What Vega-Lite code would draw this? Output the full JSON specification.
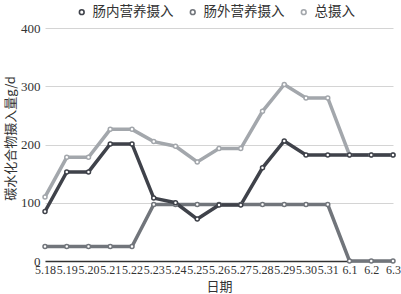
{
  "$schema": "https://vega.github.io/schema/vega-lite/v6.json",
  "width": 348,
  "height": 233,
  "autosize": "none",
  "padding": {"left": 45, "top": 28, "right": 8, "bottom": 33},
  "background": "white",
  "config": {
    "font": "Liberation Serif",
    "view": {"stroke": null}
  },
  "data": {
    "values": [
      {"date": "5.18", "s": "总摄入", "v": 110},
      {"date": "5.19", "s": "总摄入", "v": 178},
      {"date": "5.20", "s": "总摄入", "v": 178},
      {"date": "5.21", "s": "总摄入", "v": 226},
      {"date": "5.22", "s": "总摄入", "v": 226},
      {"date": "5.23", "s": "总摄入", "v": 205},
      {"date": "5.24", "s": "总摄入", "v": 197},
      {"date": "5.25", "s": "总摄入", "v": 170},
      {"date": "5.26", "s": "总摄入", "v": 193},
      {"date": "5.27", "s": "总摄入", "v": 193},
      {"date": "5.28", "s": "总摄入", "v": 257},
      {"date": "5.29", "s": "总摄入", "v": 303},
      {"date": "5.30", "s": "总摄入", "v": 280},
      {"date": "5.31", "s": "总摄入", "v": 280},
      {"date": "6.1", "s": "总摄入", "v": 182},
      {"date": "6.2", "s": "总摄入", "v": 182},
      {"date": "6.3", "s": "总摄入", "v": 182},
      {"date": "5.18", "s": "肠外营养摄入", "v": 25},
      {"date": "5.19", "s": "肠外营养摄入", "v": 25},
      {"date": "5.20", "s": "肠外营养摄入", "v": 25},
      {"date": "5.21", "s": "肠外营养摄入", "v": 25},
      {"date": "5.22", "s": "肠外营养摄入", "v": 25},
      {"date": "5.23", "s": "肠外营养摄入", "v": 97},
      {"date": "5.24", "s": "肠外营养摄入", "v": 97},
      {"date": "5.25", "s": "肠外营养摄入", "v": 97},
      {"date": "5.26", "s": "肠外营养摄入", "v": 97},
      {"date": "5.27", "s": "肠外营养摄入", "v": 97},
      {"date": "5.28", "s": "肠外营养摄入", "v": 97},
      {"date": "5.29", "s": "肠外营养摄入", "v": 97},
      {"date": "5.30", "s": "肠外营养摄入", "v": 97},
      {"date": "5.31", "s": "肠外营养摄入", "v": 97},
      {"date": "6.1", "s": "肠外营养摄入", "v": 0},
      {"date": "6.2", "s": "肠外营养摄入", "v": 0},
      {"date": "6.3", "s": "肠外营养摄入", "v": 0},
      {"date": "5.18", "s": "肠内营养摄入", "v": 85},
      {"date": "5.19", "s": "肠内营养摄入", "v": 153},
      {"date": "5.20", "s": "肠内营养摄入", "v": 153},
      {"date": "5.21", "s": "肠内营养摄入", "v": 201},
      {"date": "5.22", "s": "肠内营养摄入", "v": 201},
      {"date": "5.23", "s": "肠内营养摄入", "v": 108},
      {"date": "5.24", "s": "肠内营养摄入", "v": 100},
      {"date": "5.25", "s": "肠内营养摄入", "v": 72},
      {"date": "5.26", "s": "肠内营养摄入", "v": 96},
      {"date": "5.27", "s": "肠内营养摄入", "v": 96},
      {"date": "5.28", "s": "肠内营养摄入", "v": 160},
      {"date": "5.29", "s": "肠内营养摄入", "v": 206},
      {"date": "5.30", "s": "肠内营养摄入", "v": 182},
      {"date": "5.31", "s": "肠内营养摄入", "v": 182},
      {"date": "6.1", "s": "肠内营养摄入", "v": 182},
      {"date": "6.2", "s": "肠内营养摄入", "v": 182},
      {"date": "6.3", "s": "肠内营养摄入", "v": 182}
    ]
  },
  "encoding": {
    "x": {
      "field": "date",
      "type": "ordinal",
      "sort": ["5.18","5.19","5.20","5.21","5.22","5.23","5.24","5.25","5.26","5.27","5.28","5.29","5.30","5.31","6.1","6.2","6.3"],
      "scale": {"type": "point", "padding": 0},
      "axis": {
        "title": "日期",
        "titleFont": "Noto Sans CJK SC",
        "titleFontSize": 13,
        "titleFontWeight": "normal",
        "titleColor": "#333333",
        "titlePadding": 5,
        "labelFont": "Liberation Serif",
        "labelAngle": 0,
        "labelFontSize": 12,
        "labelColor": "#333333",
        "labelOverlap": false,
        "labelBound": false,
        "labelPadding": 3,
        "ticks": false,
        "domainColor": "#333333",
        "domainWidth": 1.5,
        "grid": false
      }
    },
    "y": {
      "field": "v",
      "type": "quantitative",
      "scale": {"domain": [0, 400]},
      "axis": {
        "title": "碳水化合物摄入量g/d",
        "titleFont": "Noto Sans CJK SC",
        "titleFontSize": 13,
        "titleFontWeight": "normal",
        "titleColor": "#333333",
        "titleX": -35,
        "titleY": 110,
        "titleBaseline": "middle",
        "values": [0, 100, 200, 300, 400],
        "labelFont": "Liberation Serif",
        "labelFontSize": 13,
        "labelColor": "#333333",
        "labelPadding": 5,
        "ticks": false,
        "domain": false,
        "gridColor": "#d4d4d4",
        "gridWidth": 1
      }
    },
    "color": {
      "field": "s",
      "type": "nominal",
      "scale": {
        "domain": ["肠内营养摄入", "肠外营养摄入", "总摄入"],
        "range": ["#3f424a", "#71757b", "#a3a7ac"]
      },
      "legend": {
        "title": null,
        "orient": "none",
        "legendX": 30,
        "legendY": -23,
        "direction": "horizontal",
        "symbolType": "circle",
        "symbolSize": 22,
        "labelFont": "Noto Sans CJK SC",
        "labelFontSize": 13.5,
        "labelColor": "#333333",
        "columnPadding": 12,
        "labelOffset": 4,
        "encode": {"symbols": {"update": {"fill": {"value": "white"}, "strokeWidth": {"value": 1.6}}}}
      }
    },
    "order": {"field": "date", "type": "ordinal"}
  },
  "layer": [
    {"mark": {"type": "line", "strokeWidth": 3.5}},
    {"mark": {"type": "point", "shape": "circle", "filled": false, "fill": "white", "fillOpacity": 1, "size": 16, "strokeWidth": 1.5, "opacity": 1}}
  ]
}
